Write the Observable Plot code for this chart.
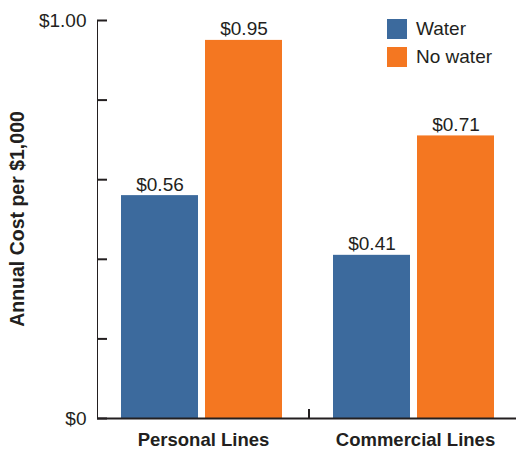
<!DOCTYPE html>
<html><head><meta charset="utf-8">
<script src="https://cdn.jsdelivr.net/npm/d3@7"></script>
<script src="https://cdn.jsdelivr.net/npm/@observablehq/plot@0.6"></script>
<style>
body{margin:0;background:#fff;font-family:"Liberation Sans",Arial,sans-serif;}
#wrap{position:relative;width:516px;height:450px;overflow:hidden;}
#wrap svg{position:absolute;left:0;top:0;}
svg [aria-label^="fx-axis"] text{font-weight:bold;font-size:18.5px;}
svg [aria-label^="y-axis"] text{font-size:19px;}
svg [aria-label^="y-axis"] line, svg [aria-label^="y-axis"] path{stroke-width:2px;}
#ytitle{position:absolute;left:17px;top:219px;transform:translate(-50%,-50%) rotate(-90deg);white-space:nowrap;font-weight:bold;font-size:19.5px;color:#231f20;}
#legend{position:absolute;left:387px;top:19px;}
.lg{display:flex;align-items:center;height:20px;margin-bottom:8px;font-size:19px;color:#231f20;}
.sw{width:20px;height:20px;margin-right:9px;}
</style></head><body><div id="wrap"></div>
<script>
const groups = ["Personal Lines", "Commercial Lines"];
const seriesNames = ["Water", "No water"];
const waterValues = [0.56, 0.41];
const noWaterValues = [0.95, 0.71];
const yTicks = [0, 0.2, 0.4, 0.6, 0.8, 1.0];
const yTickLabels = ["$0", "", "", "", "", "$1.00"];
const yTitle = "Annual Cost per $1,000";
const colors = ["#3c6a9d", "#f47721"];
const ink = "#231f20";

const rows = [];
groups.forEach((g, i) => {
  rows.push({group: g, series: seriesNames[0], value: waterValues[i]});
  rows.push({group: g, series: seriesNames[1], value: noWaterValues[i]});
});

const chart = Plot.plot({
  width: 516, height: 450,
  marginLeft: 96, marginRight: 0, marginTop: 20, marginBottom: 32,
  style: {fontFamily: '"Liberation Sans", Arial, sans-serif', fontSize: "19px", color: ink, background: "transparent", overflow: "visible"},
  facet: {data: rows, x: "group"},
  fx: {domain: groups, range: [96, 521], padding: 0, label: null, tickSize: 0, tickPadding: 14},
  x: {domain: seriesNames, axis: null, paddingInner: 7/85, paddingOuter: 0, insetLeft: 24, insetRight: 26},
  y: {domain: [0, 1], ticks: yTicks, tickFormat: d => yTickLabels[yTicks.indexOf(d)], tickSize: -10, tickPadding: 21, label: null, line: true},
  color: {domain: seriesNames, range: colors},
  marks: [
    Plot.barY(rows, {x: "series", y: "value", fill: "series"}),
    Plot.text(rows, {x: "series", y: "value", text: d => "$" + d.value.toFixed(2), dy: -5, lineAnchor: "bottom", fill: ink, fontSize: 19}),
    Plot.ruleY([0], {stroke: ink, strokeWidth: 2})
  ]
});

const wrap = document.getElementById("wrap");
wrap.appendChild(chart);

// separator tick between the two groups, placed with the fx and y scales
const fxs = chart.scale("fx");
const ys = chart.scale("y");
const sepX = fxs.apply(groups[1]);
const y0 = ys.apply(0);
d3.select(chart).append("line")
  .attr("x1", sepX).attr("x2", sepX)
  .attr("y1", y0).attr("y2", y0 - 9)
  .attr("stroke", ink).attr("stroke-width", 2);

const t = document.createElement("div");
t.id = "ytitle"; t.textContent = yTitle;
wrap.appendChild(t);

const lg = document.createElement("div");
lg.id = "legend";
seriesNames.forEach((s, i) => {
  const row = document.createElement("div"); row.className = "lg";
  const sw = document.createElement("div"); sw.className = "sw"; sw.style.background = colors[i];
  const tx = document.createElement("span"); tx.textContent = s;
  row.appendChild(sw); row.appendChild(tx); lg.appendChild(row);
});
wrap.appendChild(lg);
</script></body></html>
